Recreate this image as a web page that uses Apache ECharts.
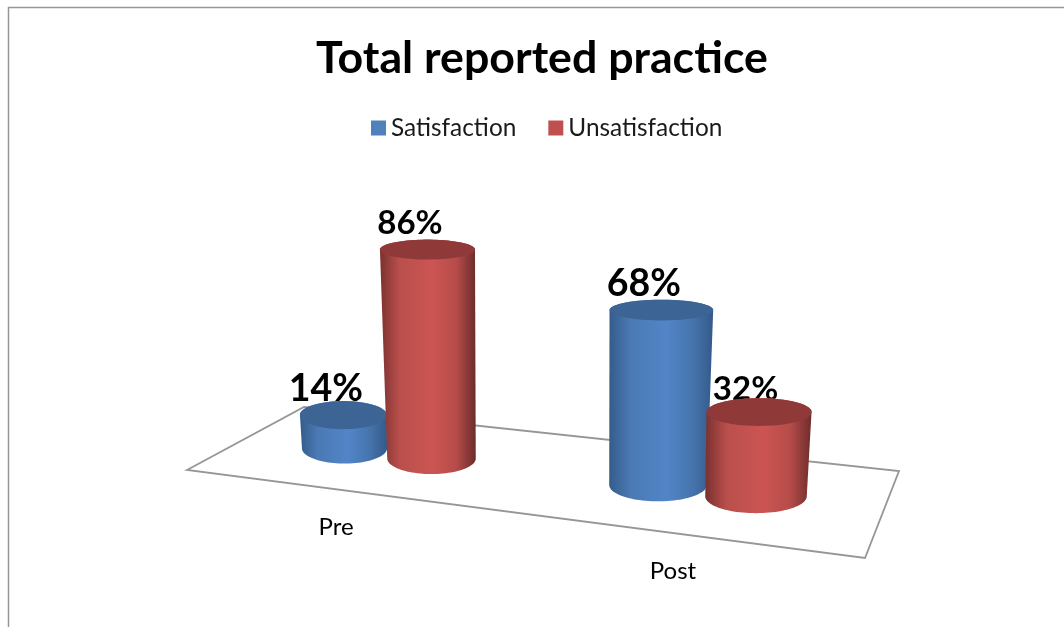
<!DOCTYPE html>
<html>
<head>
<meta charset="utf-8">
<title>Total reported practice</title>
<style>
  html, body { margin: 0; padding: 0; background: #fff; }
  #main { width: 1064px; height: 627px; }
</style>
<script src="https://cdn.jsdelivr.net/npm/echarts@6/dist/echarts.min.js"></script>
</head>
<body>
<div id="main"></div>
<script>
const categories = ['Pre', 'Post'];
const satisfaction = [14, 68];
const unsatisfaction = [86, 32];

const FONT = 'Lato';
const GRID_LEFT = 228.5, GRID_WIDTH = 638, GRID_TOP = 222, GRID_HEIGHT = 250;
const CENTER_X = GRID_LEFT + GRID_WIDTH / 2;
const FLOOR_SLOPE = 0.1165;  // the floor runs downhill to the right

const blueStops = ['#345c8b', '#4a79b3', '#5285c8', '#4675ad', '#34598a'];
const redStops = ['#7a3130', '#b94f4c', '#cc5552', '#b54c49', '#6d2c2b'];

function bodyGradient(stops) {
  return new echarts.graphic.LinearGradient(0, 0, 1, 0, [
    {offset: 0, color: stops[0]},
    {offset: 0.2, color: stops[1]},
    {offset: 0.55, color: stops[2]},
    {offset: 0.8, color: stops[3]},
    {offset: 1, color: stops[4]}
  ]);
}

// half height of an ellipse, flatter the nearer it is to eye level
function flatten(y) {
  return 10 + Math.max(0, y - 300) * 0.035;
}

function arc(cx, cy, rx, ry, from, to) {
  let points = [];
  for (let i = 0; i <= 48; i++) {
    let t = from + (to - from) * i / 48;
    points.push([cx + rx * Math.cos(t), cy + ry * Math.sin(t)]);
  }
  return points;
}

function cylinder(side, stops, topColor, labelSize) {
  return function (params, api) {
    let center = api.coord([api.value(0), 0]);
    let spread = 43.5 + 5.5 * (center[0] - 388) / 319;
    let baseX = center[0] + side * spread;
    let baseY = center[1] + FLOOR_SLOPE * (baseX - CENTER_X);
    let depth = 1 + (baseX - 545) * 0.00025;
    let height = (center[1] - api.coord([api.value(0), api.value(1)])[1]) * depth;
    let topX = baseX + (baseX - 545) * height * 0.00017;
    let topY = baseY - height;
    let baseRx = 42.5 + (baseX - 344) * 0.02;
    let topRx = baseRx * (1 + height * 0.0003) + 0.5;
    let topRy = flatten(topY), baseRy = flatten(baseY);
    // the short red bar's label sits partly behind its top
    let tucked = side > 0 && height < 100;
    return {
      type: 'group',
      children: [
        {
          type: 'text',
          style: {
            text: api.value(1) + '%',
            x: topX - 17.5 + (tucked ? 4 : 0),
            y: topY - 26.5 + (tucked ? 4 : 0),
            fontFamily: FONT,
            fontWeight: 'bold',
            fontSize: labelSize,
            fill: '#000',
            align: 'center',
            verticalAlign: 'middle'
          }
        },
        {
          type: 'polygon',
          shape: {points: arc(baseX, baseY, baseRx, baseRy, 0, Math.PI).concat(arc(topX, topY, topRx, topRy, Math.PI, 2 * Math.PI))},
          style: {fill: bodyGradient(stops)}
        },
        {
          type: 'polygon',
          shape: {points: arc(topX, topY, topRx, topRy, 0, 2 * Math.PI)},
          style: {fill: topColor}
        }
      ]
    };
  };
}

function axisLabel(params, api) {
  let center = api.coord([api.value(0), 0]);
  let x = center[0] - 52 + (center[0] - 388) * 18 / 319;
  return {
    type: 'text',
    style: {
      text: categories[api.value(0)],
      x: x,
      y: 468 + (x - 187) * 0.1327 + 39,
      fontFamily: FONT,
      fontSize: 24,
      fill: '#000',
      align: 'center',
      verticalAlign: 'middle'
    }
  };
}

let option = {
  backgroundColor: '#fff',
  animation: false,
  title: {
    text: 'Total reported practice',
    left: 537,
    top: 31,
    textAlign: 'center',
    textStyle: {fontFamily: FONT, fontWeight: 'bold', fontSize: 44.7, color: '#000'}
  },
  legend: {
    left: 366,
    top: 111,
    itemWidth: 15,
    itemHeight: 15,
    itemGap: 32,
    icon: 'rect',
    textStyle: {fontFamily: FONT, fontSize: 24.4, color: '#1a1a1a'},
    data: ['Satisfaction', 'Unsatisfaction']
  },
  grid: {left: GRID_LEFT, top: GRID_TOP, width: GRID_WIDTH, height: GRID_HEIGHT},
  xAxis: {type: 'category', data: categories, show: false},
  yAxis: {type: 'value', min: 0, max: 100, show: false},
  graphic: [
    {type: 'polyline', shape: {points: [[8.5, 627], [8.5, 7.5], [1064, 7.5]]}, style: {stroke: '#969696', lineWidth: 1.5, fill: null}},
    {type: 'polygon', shape: {points: [[187, 470], [304, 407], [899, 471], [865, 558]]}, style: {stroke: '#969696', lineWidth: 1.8, fill: '#fff'}}
  ],
  series: [
    {
      name: 'Satisfaction',
      type: 'custom',
      itemStyle: {color: '#4f81bd'},
      data: satisfaction.map((v, i) => [i, v]),
      renderItem: cylinder(-1, blueStops, '#3c6494', 37.5)
    },
    {
      name: 'Unsatisfaction',
      type: 'custom',
      itemStyle: {color: '#c0504d'},
      data: unsatisfaction.map((v, i) => [i, v]),
      renderItem: cylinder(1, redStops, '#8f3a39', 33)
    },
    {
      name: 'Period',
      type: 'custom',
      data: categories.map((c, i) => [i, 0]),
      renderItem: axisLabel
    }
  ]
};

let myEcharts = echarts.init(document.getElementById('main'));
myEcharts.setOption(option);
</script>
</body>
</html>
